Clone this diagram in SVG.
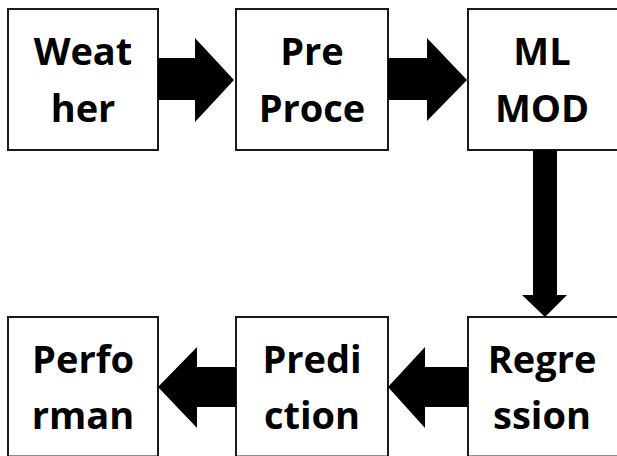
<svg xmlns="http://www.w3.org/2000/svg" width="617" height="456" viewBox="0 0 617 456">
<style>
.box{fill:#fff;stroke:#1a1a1a;stroke-width:2}
.lbl{font-family:"Open Sans","Noto Sans","Liberation Sans",sans-serif;font-weight:bold;font-size:38px;fill:#000;text-anchor:middle}
.arr{fill:#000}
</style>
<rect width="617" height="456" fill="#fff"/>
<g id="weather"><rect class="box" x="8" y="9" width="150" height="141"/><text class="lbl" x="83" y="65">Weat</text><text class="lbl" x="83" y="122">her</text></g>
<g id="preprocess"><rect class="box" x="236" y="9" width="152" height="141"/><text class="lbl" x="312" y="65">Pre</text><text class="lbl" x="312" y="122">Proce</text></g>
<g id="mlmodel"><rect class="box" x="468" y="9" width="152" height="141"/><text class="lbl" x="542" y="65">ML</text><text class="lbl" x="542" y="122">MOD</text></g>
<g id="performance"><rect class="box" x="8" y="317" width="150" height="139.5"/><text class="lbl" x="83" y="373">Perfo</text><text class="lbl" x="83" y="429">rman</text></g>
<g id="prediction"><rect class="box" x="236" y="317" width="152" height="139.5"/><text class="lbl" x="312" y="373">Predi</text><text class="lbl" x="312" y="429">ction</text></g>
<g id="regression"><rect class="box" x="468" y="317" width="152" height="139.5"/><text class="lbl" x="542" y="373">Regre</text><text class="lbl" x="542" y="429">ssion</text></g>
<g id="connectors">
<polygon class="arr" points="158,58 195,58 195,38 234,80 195,122 195,100 158,100"/>
<polygon class="arr" points="388,58 427,58 427,38 467,80 427,121 427,100 388,100"/>
<polygon class="arr" points="533,150 557,150 557,295 567,295 545,317 522,295 533,295"/>
<polygon class="arr" points="468,367 425,367 425,347 388,387 425,428 425,407 468,407"/>
<polygon class="arr" points="236,367 197,367 197,347 158,387 197,428 197,407 236,407"/>
</g>
</svg>
